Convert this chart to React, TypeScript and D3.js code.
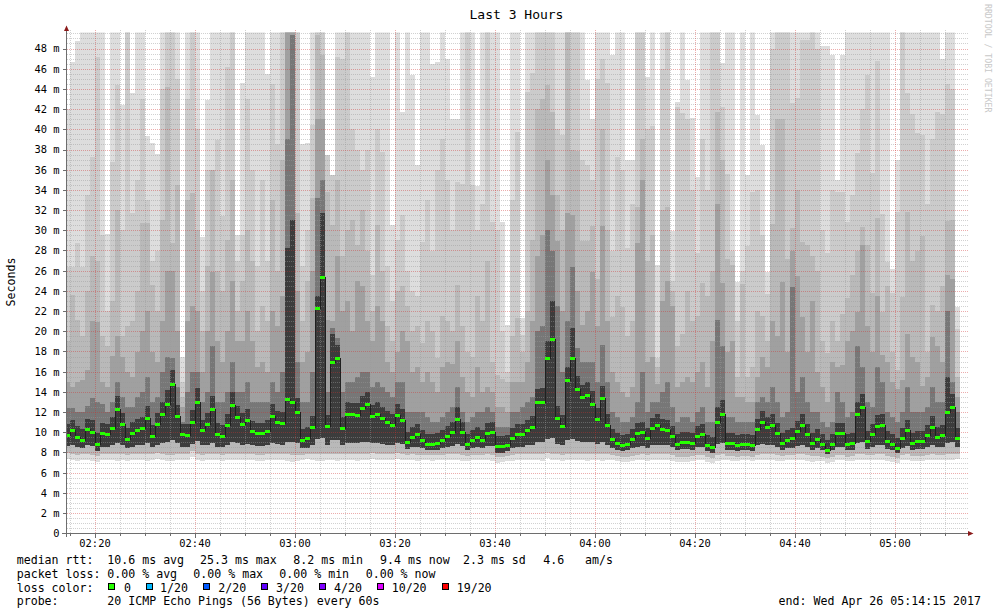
import React from 'react';
import * as d3 from 'd3';

// first data column starts at 02:14 (minutes after midnight), one column per minute
const firstColumnMinute = 134;

// median RTT per minute (ms)
const median = [
  9.7,10.2,9.5,9.2,10.3,10.0,8.8,9.9,9.8,10.4,12.3,10.8,9.3,9.9,10.2,10.4,11.4,9.6,10.8,11.8,12.8,14.7,11.6,9.8,9.7,11.0,13.0,10.2,10.8,12.3,9.8,9.6,10.7,12.7,11.5,10.8,11.2,
  10.1,9.9,9.9,10.1,11.6,11.0,10.9,13.2,13.0,12.0,9.2,9.4,10.5,22.3,25.3,10.6,16.9,17.3,10.4,11.8,11.8,11.7,12.4,12.8,11.6,11.8,11.4,11.0,10.7,11.7,11.2,9.0,9.5,9.8,9.2,8.8,
  8.8,8.9,9.2,9.6,10.0,11.3,10.0,8.8,9.2,9.5,9.2,9.9,10.0,8.6,8.6,8.7,9.4,9.8,9.8,10.2,10.5,13.0,13.0,17.3,19.2,11.4,10.6,15.1,17.3,14.2,13.4,13.6,12.8,11.3,13.3,10.7,
  9.3,8.9,8.7,8.8,9.3,9.9,10.0,9.4,10.4,10.7,10.3,10.2,9.6,8.8,9.0,9.0,8.9,9.6,9.8,8.7,8.5,11.0,11.8,8.9,8.9,8.7,8.8,8.8,8.7,10.3,11.0,10.5,10.7,9.9,8.9,9.2,
  9.4,10.1,10.7,9.8,8.9,9.3,8.8,8.2,8.8,9.9,9.9,8.8,8.9,11.8,12.5,9.1,9.8,10.6,10.7,9.1,8.8,8.4,9.4,10.2,8.9,9.1,9.1,9.7,10.5,9.5,9.7,12.0,12.5,9.4,
];

// smoke: upper edges of the grey bands (lightest -> darkest), ms
const smokeTop1 = [
  42,46.7,48.7,49.6,49.6,49.6,49.6,49.6,29.6,49.6,49.6,42.4,49.6,43.6,49.6,49.6,39.3,38.6,37.6,49.6,49.6,49.6,49.6,17.5,49.6,49.6,49.6,29.3,42.9,49.6,49.6,49.6,49.6,49.6,29.5,44.6,49.6,
  49.6,49.6,49.6,45.5,49.6,49.6,49.6,49.6,49.6,49.6,38.5,38.6,49.6,49.6,49.6,37.5,35.5,49.6,49.6,49.6,49.6,49.6,49.6,49.6,45.2,49.6,49.6,49.6,30.5,49.6,41.7,49.6,45.4,36.5,49.6,49.6,
  46.5,46.7,49.6,47,41,41,49.6,49.6,49.6,34.4,49.6,49.6,49.6,49.6,30.8,20.6,49.6,49.6,21.3,49.6,49.6,49.6,49.6,49.6,49.6,49.6,49.6,49.6,49.6,49.6,49.6,44.9,41,49.6,49.6,49.6,
  47.4,49.6,49.6,37,37,49.6,49.6,45.2,49.6,26.6,49.6,49.6,29.9,42.7,49.6,44.9,41.1,35.3,49.6,49.6,49.6,49.6,46.6,49.6,49.6,24.9,49.6,35.5,49.6,41.4,38.4,25.9,49.6,49.6,49.6,49.6,
  49.6,49.6,49.6,49.6,49.6,49.6,48.2,48.2,47.4,35,47.4,49.6,49.6,49.6,49.6,49.6,49.6,49.6,49.6,49.6,26.2,37,49.6,49.6,49.6,49.6,49.6,49.6,49.6,49.6,47,49.6,49.6,22.4,
];
const smokeTop2 = [
  26.4,26.4,28.7,26.4,33.5,37.3,47.2,29.5,22,36.8,44.4,30,49.6,31.7,35,43,33,27,28,44,49.6,49.6,45,15,43,49.6,40,24,36,36,38.9,31.4,46.2,49.6,27,29.5,43,
  36,26.5,35,27,44.5,38.5,49.6,49.6,49.6,49.6,26.5,30,40.4,49.6,49.6,37.5,35.5,47.2,47,49.6,40,38,36,38,25.6,40,37.8,26.5,23,29,31.5,26,24,23.5,28.8,33,
  28,36,39,35,30,34.8,34.6,49.6,34.5,30,32.6,49.6,30.8,30,20,16,33,39.7,19.6,43.7,45.6,49.6,49.6,49.6,49.6,40,39.4,49.6,49.6,49.6,37,36.5,35,45,47,44.6,
  28,37.3,36,28.2,32.6,49.6,49.6,40,40.3,17.4,46,49.6,25,42.2,41.6,41,34,27.8,39,34,49.6,49.6,42.2,35.6,28,21,26,28.4,33.8,34,29.5,23.7,48,49.6,49.6,49.6,
  42.6,43.1,48.8,48.8,49.6,48,30,27.8,34,33.8,33.8,30.8,33.5,37.7,42,45.4,35.7,46.8,31.6,26.9,23.8,31.8,49.6,43.6,41.5,39.6,39.4,32.6,39,41.7,41.5,44.5,44,20.2,
];
const smokeTop3 = [
  19,23.6,21.1,19.5,24,27.5,27,19.5,18.5,23,32,19.5,20.5,21,24,30.7,30.7,24.6,22,31,44.2,28.7,34.5,13.5,33,33.7,30,20,26.5,36,26,24,29,35,22,25,30,
  27,20,22.5,21,33,26,37,49.6,49.6,31.7,21,25,33.2,49.3,47.4,33.8,30.5,35,27.5,30,31,28.5,32,28,22,30.5,26,20.5,19,24,24.5,22.5,20,20.5,18.8,21,
  20,17.4,21.5,21,20,24.6,20.5,18,17.5,23.5,21,27,17,15.7,15.3,15,19.5,21.3,18,22,29,42,43,44.4,41.7,33.5,30,49.6,38,37.9,28.9,28.9,30.4,25.2,40,30,
  21.4,23.5,22.4,19.5,21,32.3,39,27,29.5,16.5,32,32.3,24,18.5,19.7,24,21,21.5,24.8,23.5,26,41.7,37,27.2,26.6,15.5,24.7,15.5,16.5,22,21.5,19,30.6,41,41,27.2,
  30.2,34,28.8,28.5,27.5,26,19,17.9,21,19,21.7,23.3,25.6,28,30.3,28.5,23.8,31.2,21.9,24.5,18,16.2,23.4,31.8,27,28,29.4,18,22.6,22,24.5,30.9,31,15.5,
];
const smokeTop4 = [
  15,14.5,15,15.2,16.2,21,20.9,15,14.5,17.6,19.5,17.5,16,15.5,18,20,22,18,17,21,26,26,20,12.5,21,22.5,22,16,20,25.9,19,17,20,25,19,19,22,
  19,16.5,17,16,22,20.5,23.5,49.6,49.6,24,17,18,26,41,41,21.1,21,27.5,22,23,20,25,24.5,21,19,22.5,21,17,16,18,20,19,16,16.5,15,16,
  15,14,16.5,17,16.8,19,15.5,14,13.5,16.5,14,14.5,14,12.5,12.5,12,15,15,15,17,21,27.5,29.5,37,33.5,28.9,22,31.7,31.5,24,20.6,22,25.9,20.5,30.4,21,
  16,15,14,13.5,14.5,28.7,35,17,17.5,14.8,23,25,22.5,14.5,15,15.5,15,16,17,14.5,19,32.6,24.8,18,19,13.5,13.5,13,13,15.5,17.5,16.5,21,19.5,24.9,18,
  28,25.5,21.4,18,23,16,14.5,13,17,16.5,16.7,19,20,21.9,28.5,20.5,18,23.5,17.7,17,15,14.3,15.2,19.7,17.5,17,14.6,15.5,19.4,18.5,17,25.6,25.2,13.5,
];
const smokeTop5 = [
  12.4,12.4,12,12,12.6,13.4,13,12.8,12,13,15,13.5,12.5,12.5,13.5,14,15.5,13,13.5,16,17.5,17.4,14.5,11,14,16,16,13,14,18.5,13,13,14,17,14,14,15,
  13,13,13,13,15,14,16,39,49.3,17,13,13,16,33.2,35,14,20.3,19.3,14,15,15,15.5,16,16,14.5,15,14.5,14,13.5,15,15,12,12,12,12,11.5,
  11,11,11.5,12,12.5,14.5,12,11,11.5,12,12,12.5,12,10.5,10.5,10.5,12,12,12.5,13,13.5,20,20.5,30,28,22.5,16,21,26.4,18.3,17,17,17,15,18.6,15,
  12,11.5,11,11,11.5,13,16,12,13,13,14,15,12.5,11,11.5,11.5,11,12,12.5,11,11,21.1,18.5,11.5,11.5,11,11,11,11,13,13.5,13,14.5,13,11.5,12,
  24.4,14,15.5,13,12,12,11,10.5,11,14,13,11.5,12,18.5,16.5,13,12.5,16.5,15,12,11.5,11,12,14.5,12,12,12,12.5,14.5,13,13,22,15,12,
];
// smoke: upper edge of the dark core around the median, ms
const smokeCore = [
  10.8,11.2,10.6,10.3,11.3,11.2,9.9,10.9,10.8,11.5,13.6,11.9,10.4,11.0,11.3,11.5,12.6,10.7,11.9,13.0,14.2,16.2,12.7,10.8,10.8,12.2,14.4,11.2,11.9,13.6,10.9,10.7,11.8,14.0,12.6,11.9,12.3,
  11.1,10.9,10.9,11.2,12.8,12.1,12.0,28.2,31.0,13.4,10.3,10.5,11.6,23.5,31.7,11.7,19.7,18.6,11.5,13.0,12.9,12.9,13.6,14.0,12.7,13.0,12.5,12.1,11.8,12.8,12.3,10.0,10.5,10.8,10.2,9.8,
  9.8,9.9,10.2,10.6,11.0,12.5,11.0,9.8,10.2,10.5,10.2,10.9,11.0,9.6,9.6,9.7,10.4,10.8,10.8,11.2,11.6,14.3,14.4,19.0,23.0,12.6,11.7,16.5,20.3,15.6,14.7,15.0,14.1,12.4,14.6,11.8,
  10.3,9.9,9.7,9.8,10.3,10.9,11.0,10.4,11.4,11.8,11.3,11.2,10.6,9.8,10.0,10.0,9.9,10.6,10.8,9.7,9.5,12.5,13.2,9.9,9.9,9.7,9.8,9.8,9.7,11.3,12.1,11.5,11.8,10.9,9.9,10.2,
  10.4,11.1,11.8,10.8,9.9,10.3,9.8,9.2,9.8,10.9,10.9,9.8,9.9,13.0,13.8,10.1,10.8,11.7,11.8,10.1,9.8,9.4,10.4,11.2,9.9,10.1,10.1,10.7,11.6,10.5,10.7,15.5,13.8,10.4,
];
// smoke: lower edges (lightest, light/mid, dark), ms
const smokeBottom1 = [
  7.4,7.3,7.2,7.3,7.3,7.2,7.1,7.3,7.3,7.3,7.2,7.3,7.2,7.3,7.3,7.3,7.2,7.3,7.4,7.3,7.2,7.2,7.3,7.3,7.3,7.6,7.3,7.2,7.3,7.3,7.3,7.2,7.3,7.3,7.3,7.3,7.3,
  7.3,7.2,7.2,7.3,7.3,7.3,7.3,7.2,7.1,7.2,7.3,7.4,7.3,7.2,7.2,7.3,7.3,7.2,7.3,7.3,7.3,7.2,7.3,7.3,7.4,7.3,7.3,7.3,7.3,7.4,7.3,7.3,7.3,7.2,7.3,7.3,
  7.2,7.3,7.3,7.3,7.3,7.3,7.2,7.2,7.3,7.3,7.3,7.3,7.2,7.0,7.1,7.2,7.2,7.3,7.3,7.3,7.3,7.3,7.2,7.5,7.3,7.3,7.2,7.3,7.3,7.3,7.3,7.2,7.3,7.3,7.2,7.3,
  7.3,7.2,7.1,7.1,7.2,7.3,7.3,7.2,7.3,7.3,7.3,7.3,7.2,7.1,7.1,7.1,7.2,7.3,7.3,7.1,7.0,7.2,7.3,7.3,7.2,7.2,7.3,7.3,7.2,7.3,7.3,7.3,7.3,7.2,7.2,7.3,
  7.3,7.3,7.3,7.2,7.1,7.2,7.2,7.0,7.1,7.3,7.3,7.2,7.2,7.3,7.3,7.3,7.3,7.3,7.3,7.2,7.1,7.0,7.3,7.3,7.2,7.2,7.2,7.3,7.3,7.3,7.3,7.3,7.3,7.4,
];
const smokeBottom2 = [
  8.0,7.9,7.8,7.9,7.9,7.8,7.7,7.9,7.9,7.9,7.9,7.9,7.8,7.9,7.9,7.9,7.9,7.9,8.0,7.9,7.8,7.8,7.9,7.9,7.9,8.1,7.9,7.8,7.9,7.9,7.9,7.8,7.9,7.9,7.9,7.9,7.9,
  7.9,7.8,7.8,7.9,7.9,7.9,7.9,7.9,7.8,7.8,7.8,7.9,7.9,7.9,7.9,7.9,7.9,7.9,7.9,7.9,7.9,7.9,7.9,7.9,8.0,7.9,7.9,7.9,7.9,8.0,7.9,7.8,7.9,7.8,7.8,7.8,
  7.8,7.8,7.8,7.9,7.9,7.9,7.8,7.7,7.8,7.8,7.8,7.9,7.8,7.6,7.6,7.7,7.8,7.9,7.9,7.9,7.9,7.9,7.9,8.0,7.9,7.9,7.8,7.9,7.9,7.9,7.9,7.9,7.9,7.9,7.9,7.9,
  7.8,7.7,7.6,7.6,7.7,7.8,7.9,7.8,7.9,7.9,7.9,7.9,7.8,7.6,7.6,7.6,7.7,7.8,7.8,7.6,7.5,7.8,7.9,7.7,7.7,7.6,7.7,7.7,7.6,7.8,7.9,7.9,7.9,7.8,7.7,7.8,
  7.8,7.9,7.9,7.8,7.7,7.7,7.6,7.5,7.6,7.8,7.8,7.6,7.7,7.9,7.9,7.8,7.8,7.9,7.9,7.7,7.6,7.5,7.8,7.9,7.7,7.7,7.7,7.8,7.9,7.8,7.8,7.9,7.9,7.9,
];
const smokeBottom3 = [
  8.6,8.7,8.5,8.4,8.7,8.6,8.1,8.5,8.5,8.7,8.9,8.7,8.4,8.5,8.7,8.7,8.9,8.5,8.7,8.9,9.0,9.2,8.9,8.5,8.5,8.8,9.1,8.7,8.7,8.9,8.5,8.5,8.7,9.0,8.9,8.7,8.8,
  8.7,8.6,8.6,8.7,8.9,8.8,8.7,9.0,9.0,8.9,8.4,8.4,8.7,9.3,9.4,8.7,9.2,9.2,8.7,8.9,8.9,8.9,9.0,9.0,8.9,8.9,8.8,8.7,8.7,8.9,8.8,8.3,8.5,8.5,8.4,8.2,
  8.2,8.2,8.4,8.5,8.6,8.8,8.6,8.2,8.4,8.5,8.4,8.6,8.6,8.0,8.0,8.1,8.4,8.5,8.5,8.7,8.7,9.0,9.0,9.3,9.4,8.8,8.7,9.2,9.3,9.1,9.0,9.0,9.0,8.8,9.0,8.7,
  8.4,8.2,8.1,8.2,8.4,8.5,8.6,8.4,8.7,8.7,8.7,8.7,8.5,8.2,8.3,8.3,8.2,8.5,8.5,8.1,8.0,8.8,8.9,8.2,8.2,8.1,8.2,8.2,8.1,8.7,8.8,8.7,8.7,8.5,8.2,8.4,
  8.4,8.6,8.7,8.5,8.2,8.4,8.2,7.9,8.2,8.5,8.5,8.2,8.2,8.9,9.0,8.3,8.5,8.7,8.7,8.3,8.2,8.0,8.4,8.6,8.2,8.3,8.3,8.5,8.7,8.5,8.5,8.9,9.0,8.5,
];

const xTickMinutes = [140, 160, 180, 200, 220, 240, 260, 280, 300];
const xTickLabels = ['02:20', '02:40', '03:00', '03:20', '03:40', '04:00', '04:20', '04:40', '05:00'];
const yTicks = [0, 2, 4, 6, 8, 10, 12, 14, 16, 18, 20, 22, 24, 26, 28, 30, 32, 34, 36, 38, 40, 42, 44, 46, 48];
const yTickLabels = ['0', '2 m', '4 m', '6 m', '8 m', '10 m', '12 m', '14 m', '16 m', '18 m', '20 m', '22 m', '24 m', '26 m', '28 m', '30 m', '32 m', '34 m', '36 m', '38 m', '40 m', '42 m', '44 m', '46 m', '48 m'];

const lossLabels = ['0', '1/20', '2/20', '3/20', '4/20', '10/20', '19/20'];
const lossColors = ['#26ff00', '#00b8ff', '#0059ff', '#5e00ff', '#7e00ff', '#dd00ff', '#ff0000'];

const rttStats = ['median rtt:', '10.6 ms avg', '25.3 ms max', '8.2 ms min', '9.4 ms now', '2.3 ms sd', '4.6', 'am/s'];
const lossStats = ['packet loss:', '0.00 % avg', '0.00 % max', '0.00 % min', '0.00 % now'];

const W = 997;
const H = 615;
const PL = 67;
const PR = 966.5;
const PT = 32.5;
const PB = 533.3;
const YMAX_DRAW = 49.6;
const FONT = "'DejaVu Sans Mono', 'Liberation Mono', monospace";

const shades = ['#dddddd', '#cbcbcb', '#b9b9b9', '#a0a0a0', '#777777', '#3c3c3c'];

export default function App() {
  const x = d3.scaleLinear().domain([140, 300]).range([95, 895]);
  const y = d3.scaleLinear().domain([0, 50]).range([PB, 28.3]);

  const n = median.length;
  const tops = [smokeTop1, smokeTop2, smokeTop3, smokeTop4, smokeTop5, smokeCore];
  const bottoms = [smokeBottom1, smokeBottom2, smokeBottom2, smokeBottom3, smokeBottom3, smokeBottom3];

  const smoke: JSX.Element[] = [];
  tops.forEach((arr, li) => {
    for (let i = 0; i < n; i++) {
      const x0 = Math.max(x(firstColumnMinute + i), PL);
      const x1 = x(firstColumnMinute + i + 1);
      const yt = y(Math.min(arr[i], YMAX_DRAW));
      const yb = y(bottoms[li][i]);
      smoke.push(
        <rect key={`s${li}-${i}`} x={x0} y={yt} width={x1 - x0} height={yb - yt} fill={shades[li]} />
      );
    }
  });

  const minorH = d3.range(0.5, 49.6, 0.5).filter((v) => Math.abs(v / 2 - Math.round(v / 2)) > 1e-6);
  const majorH = yTicks.filter((v) => v > 0);
  const minorV = d3.range(135, 315, 5).filter((m) => m % 20 !== 0 && x(m) > PL && x(m) < PR);

  const pts: [number, number][] = median.map((m, i) => [x(firstColumnMinute + i), y(m)]);
  pts.push([x(firstColumnMinute + n), y(median[n - 1])]);
  const stepPath = d3.line().curve(d3.curveStepAfter)(pts) || '';

  const rttX = [16.7, 107.3, 200, 293.3, 380, 463, 543.3, 585];
  const lossX = [16.7, 107.3, 193.3, 279.3, 365.7];
  const boxX = [108.3, 146, 203.3, 261, 319, 376.7, 441.7];
  const boxLabelX = [124, 160, 218.3, 276, 334, 391.7, 456.7];

  return (
    <svg
      width={W}
      height={H}
      viewBox={`0 0 ${W} ${H}`}
      style={{ position: 'absolute', left: 0, top: 0, background: '#ffffff' }}
      fontFamily={FONT}
    >
      <defs>
        <clipPath id="plotClip">
          <rect x={PL} y={PT} width={PR - PL} height={PB - PT} />
        </clipPath>
      </defs>
      <rect x={0} y={0} width={W} height={H} fill="#ffffff" />

      <g clipPath="url(#plotClip)" shapeRendering="crispEdges">{smoke}</g>

      {/* grid */}
      <g shapeRendering="crispEdges" strokeDasharray="1,1" strokeWidth={1}>
        {minorH.map((v) => (
          <line key={`mh${v}`} x1={PL} x2={PR + 2} y1={Math.round(y(v)) + 0.5} y2={Math.round(y(v)) + 0.5} stroke="#9a9a9a" strokeOpacity={0.45} />
        ))}
        {minorV.map((m) => (
          <line key={`mv${m}`} x1={Math.round(x(m)) + 0.5} x2={Math.round(x(m)) + 0.5} y1={30} y2={PB} stroke="#9a9a9a" strokeOpacity={0.45} />
        ))}
        {majorH.map((v) => (
          <line key={`Mh${v}`} x1={PL} x2={PR + 2} y1={Math.round(y(v)) + 0.5} y2={Math.round(y(v)) + 0.5} stroke="#d03030" strokeOpacity={0.4} />
        ))}
        {xTickMinutes.map((m) => (
          <line key={`Mv${m}`} x1={Math.round(x(m)) + 0.5} x2={Math.round(x(m)) + 0.5} y1={30} y2={PB} stroke="#d03030" strokeOpacity={0.4} />
        ))}
      </g>

      {/* median */}
      <g clipPath="url(#plotClip)">
        <path d={stepPath} fill="none" stroke="#202020" strokeWidth={1} shapeRendering="crispEdges" />
        {median.map((m, i) => {
          const x0 = Math.max(x(firstColumnMinute + i), PL);
          const x1 = x(firstColumnMinute + i + 1);
          return (
            <rect key={`md${i}`} x={x0} y={y(m) - 1.5} width={x1 - x0} height={3} fill={lossColors[0]} shapeRendering="crispEdges" />
          );
        })}
      </g>

      {/* axes */}
      <g shapeRendering="crispEdges" stroke="#6e6e6e" strokeWidth={1}>
        <line x1={66.5} x2={66.5} y1={30} y2={PB + 4} />
        <line x1={62} x2={969} y1={533.5} y2={533.5} />
        {yTicks.map((v) => (
          <line key={`yt${v}`} x1={62.5} x2={66.5} y1={Math.round(y(v)) + 0.5} y2={Math.round(y(v)) + 0.5} />
        ))}
        {xTickMinutes.map((m) => (
          <line key={`xt${m}`} x1={Math.round(x(m)) + 0.5} x2={Math.round(x(m)) + 0.5} y1={533.5} y2={537.5} />
        ))}
        {minorV.map((m) => (
          <line key={`xmt${m}`} x1={Math.round(x(m)) + 0.5} x2={Math.round(x(m)) + 0.5} y1={533.5} y2={535.5} />
        ))}
      </g>
      <path d="M64,31 L69,31 L66.5,25.5 Z" fill="#8b1a1a" />
      <path d="M968,531 L968,536 L973.5,533.5 Z" fill="#8b1a1a" />

      {/* y tick labels */}
      {yTicks.map((v, i) => (
        <text key={`yl${v}`} x={59.5} y={y(v) + 3.8} textAnchor="end" fontSize={10.4} fill="#000">
          {yTickLabels[i]}
        </text>
      ))}
      {/* x tick labels */}
      {xTickMinutes.map((m, i) => (
        <text key={`xl${m}`} x={x(m)} y={546.5} textAnchor="middle" fontSize={10.4} fill="#000">
          {xTickLabels[i]}
        </text>
      ))}

      {/* title & axis titles */}
      <text x={516.5} y={18.5} textAnchor="middle" fontSize={13} fill="#000">Last 3 Hours</text>
      <text transform="translate(15,282) rotate(-90)" textAnchor="middle" fontSize={11.6} fill="#000">Seconds</text>
      <text transform="translate(984.5,4) rotate(90)" textAnchor="start" fontSize={8.2} fill="#c8c8c8">RRDTOOL / TOBI OETIKER</text>

      {/* legend */}
      <g fontSize={11.6} fill="#000">
        {rttStats.map((s, i) => (
          <text key={`r${i}`} x={rttX[i]} y={563.5} xmlSpace="preserve">{s}</text>
        ))}
        {lossStats.map((s, i) => (
          <text key={`l${i}`} x={lossX[i]} y={577.5} xmlSpace="preserve">{s}</text>
        ))}
        <text x={16.7} y={591.5}>loss color:</text>
        {lossLabels.map((s, i) => (
          <g key={`lc${i}`}>
            <rect x={boxX[i] + 0.5} y={583.5} width={6} height={6} fill={lossColors[i]} stroke="#000" strokeWidth={1} shapeRendering="crispEdges" />
            <text x={boxLabelX[i]} y={591.5}>{s}</text>
          </g>
        ))}
        <text x={16.7} y={605.3}>probe:</text>
        <text x={107.3} y={605.3}>20 ICMP Echo Pings (56 Bytes) every 60s</text>
        <text x={981} y={605.3} textAnchor="end">end: Wed Apr 26 05:14:15 2017</text>
      </g>
    </svg>
  );
}
